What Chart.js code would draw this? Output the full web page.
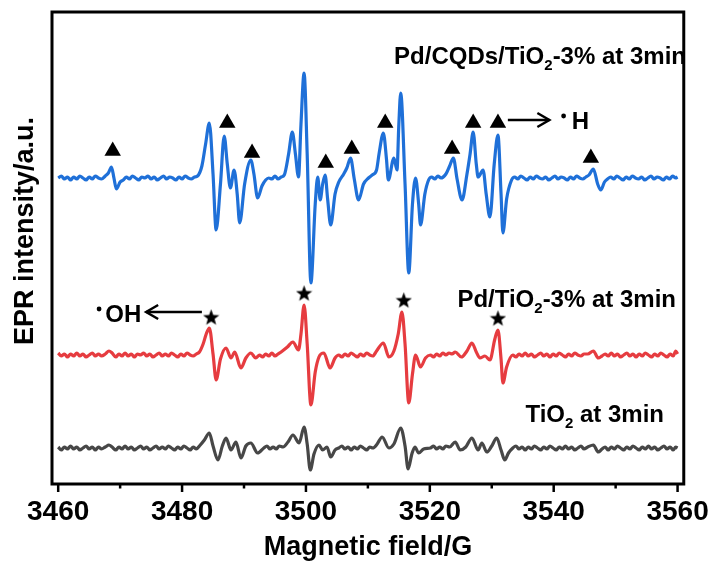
<!DOCTYPE html>
<html>
<head>
<meta charset="utf-8">
<script src="https://cdn.jsdelivr.net/npm/chart.js@4.4.1/dist/chart.umd.min.js"></script>
<style>
html,body{margin:0;padding:0;background:#fff;}
#wrap{width:720px;height:569px;position:relative;}
</style>
</head>
<body>
<div id="wrap"><canvas id="c" width="720" height="569"></canvas></div>
<script>
// ---- Data: [field (G), EPR intensity (a.u.)] ----
const xTickValues = [3460, 3480, 3500, 3520, 3540, 3560];

const blueTrace = [[3460.0,306],[3460.5,308],[3461.0,305],[3461.5,307],[3462.0,304],[3462.5,307],[3463.0,305],[3463.5,308],[3464.0,306],[3464.5,304],[3465.0,307],[3465.5,305],[3466.0,308],[3466.5,306],[3467.0,305],[3467.6,308],
[3468.1,311],[3468.6,317],[3469.0,306],[3469.4,295],[3470.0,302],
[3470.5,304],[3471.0,307],[3471.5,305],[3472.0,308],[3472.5,306],[3473.0,304],[3473.5,307],[3474.0,306],[3474.5,308],[3475.0,305],[3475.5,307],[3476.0,304],[3476.5,306],[3477.0,308],[3477.5,305],[3478.0,307],[3478.5,306],[3479.0,304],[3479.5,307],[3480.0,305],[3480.5,308],[3481.0,306],[3481.5,305],[3482.0,307],[3482.5,308],
[3483.2,318],[3483.8,340],[3484.4,361],[3485.0,310],[3485.5,254],[3486.2,300],[3486.8,348],[3487.3,320],[3487.8,296],[3488.4,314],[3488.9,290],[3489.3,261],[3490.1,300],[3491.1,324],[3491.6,310],[3492.2,286],[3492.9,298],[3493.5,304],
[3494.0,306],[3494.5,305],[3495.0,308],[3495.5,305],[3496.0,307],[3496.5,309],
[3497.2,330],[3497.8,352],[3498.3,330],[3498.8,307],[3499.2,360],[3499.7,411],[3500.2,330],[3500.8,201],[3501.5,280],[3501.9,307],[3502.3,284],[3502.7,300],[3503.1,309],[3503.5,285],[3504.0,259],[3504.7,290],[3505.3,302],[3506.1,310],[3506.6,316],[3507.2,326],[3507.8,305],[3508.5,284],[3509.3,300],[3510.1,306],[3510.7,309],[3511.4,314],[3511.8,330],[3512.5,351],[3513.0,325],[3513.3,304],[3514.2,326],[3514.7,314],[3515.0,360],[3515.3,391],[3516.0,300],[3516.6,211],[3517.2,280],[3517.7,306],[3518.2,280],[3518.5,259],[3519.2,290],[3519.8,304],
[3520.3,307],[3520.8,305],[3521.3,308],[3521.8,306],[3522.6,310],[3523.2,318],[3523.8,326],[3524.4,305],[3525.2,284],[3526.0,310],[3526.5,330],[3527.0,352],[3527.5,320],[3527.8,307],[3528.6,314],[3529.1,290],[3529.7,267],[3530.4,320],[3531.0,349],[3531.5,290],[3531.8,251],[3532.4,285],[3533.2,304],
[3533.7,307],[3534.2,305],[3534.7,308],[3535.2,306],[3535.7,304],[3536.2,307],[3536.7,305],[3537.2,308],[3537.7,306],[3538.2,305],[3538.7,307],[3539.2,304],[3539.7,306],[3540.2,308],[3540.7,305],[3541.2,307],[3541.7,306],[3542.2,304],[3542.7,307],[3543.2,305],[3543.7,308],[3544.2,306],[3544.7,305],[3545.2,307],[3545.7,309],
[3546.4,315],[3547.1,300],[3547.6,294],[3548.2,302],
[3548.7,305],[3549.2,307],[3549.7,305],[3550.2,308],[3550.7,306],[3551.2,304],[3551.7,307],[3552.2,305],[3552.7,308],[3553.2,306],[3553.7,305],[3554.2,307],[3554.7,304],[3555.2,306],[3555.7,308],[3556.2,305],[3556.7,307],[3557.2,306],[3557.7,304],[3558.2,307],[3558.7,305],[3559.2,308],[3559.7,306],[3560.0,307]];

const redTrace = [[3460.0,131],[3460.5,128],[3461.0,130],[3461.5,127],[3462.0,130],[3462.5,128],[3463.0,131],[3463.5,128],[3464.0,130],[3464.5,127],[3465.0,129],[3465.5,131],[3466.0,128],[3466.5,130],[3467.0,128],[3467.6,130],[3468.2,133],[3468.7,131],[3469.3,127],[3469.8,130],
[3470.3,128],[3470.8,131],[3471.3,128],[3471.8,130],[3472.3,127],[3472.8,130],[3473.3,129],[3473.8,131],[3474.3,128],[3474.8,130],[3475.3,127],[3475.8,129],[3476.3,131],[3476.8,128],[3477.3,130],[3477.8,128],[3478.3,131],[3478.8,129],[3479.3,127],[3479.8,130],[3480.3,128],[3480.8,131],[3481.3,129],[3481.8,128],[3482.3,130],[3482.8,132],
[3483.4,140],[3483.9,150],[3484.4,156],[3485.0,130],[3485.5,104],[3486.2,125],[3487.1,136],[3487.9,126],[3488.5,132],[3489.5,116],[3490.3,126],[3491.1,131],[3491.9,126],
[3492.5,129],[3493.0,127],[3493.5,130],[3494.0,128],[3494.5,131],[3495.0,128],[3495.5,130],[3496.2,133],[3497.0,137],[3497.9,142],[3498.8,134],[3499.2,150],[3499.7,179],[3500.2,140],[3500.8,79],[3501.5,112],[3502.1,127],[3502.9,131],[3503.9,116],[3504.7,126],[3505.3,129],
[3505.8,127],[3506.3,130],[3506.8,128],[3507.3,131],[3507.8,129],[3508.3,127],[3508.8,130],[3509.3,128],[3509.8,131],[3510.3,129],[3510.8,128],[3511.4,133],[3512.5,141],[3513.4,127],[3514.2,133],[3514.9,150],[3515.5,172],[3516.0,140],[3516.6,81],[3517.2,110],[3517.7,129],[3518.5,117],[3519.3,126],[3520.1,129],
[3520.6,127],[3521.1,130],[3521.6,128],[3522.1,131],[3522.6,129],[3523.1,131],[3523.6,130],[3524.1,132],[3525.1,127],[3526.0,133],[3526.8,141],[3527.5,132],[3528.1,126],[3528.9,128],[3529.7,124],[3530.5,145],[3531.0,154],[3531.5,125],[3531.8,101],[3532.4,117],[3533.4,129],
[3533.9,127],[3534.4,130],[3534.9,128],[3535.4,131],[3535.9,128],[3536.4,130],[3536.9,127],[3537.4,129],[3537.9,131],[3538.4,128],[3538.9,130],[3539.4,127],[3539.9,130],[3540.4,128],[3540.9,131],[3541.4,129],[3541.9,127],[3542.4,130],[3542.9,128],[3543.4,131],[3543.9,129],[3544.4,128],[3544.9,130],[3545.5,130],[3546.4,133],[3547.2,126],[3547.8,128],
[3548.3,130],[3548.8,128],[3549.3,131],[3549.8,128],[3550.3,130],[3550.8,127],[3551.3,129],[3551.8,131],[3552.3,128],[3552.8,130],[3553.3,127],[3553.8,130],[3554.3,128],[3554.8,131],[3555.3,129],[3555.8,127],[3556.3,130],[3556.8,128],[3557.3,131],[3557.8,129],[3558.3,127],[3558.8,130],[3559.3,128],[3559.7,133],[3560.0,130]];

const grayTrace = [[3460.0,37],[3460.5,34],[3461.0,37],[3461.5,35],[3462.0,38],[3462.5,35],[3463.0,37],[3463.5,34],[3464.0,36],[3464.5,38],[3465.0,35],[3465.5,37],[3466.0,34],[3466.5,37],[3467.0,35],[3467.6,37],[3468.2,39],[3468.7,37],[3469.3,34],[3469.8,37],
[3470.3,35],[3470.8,38],[3471.3,35],[3471.8,37],[3472.3,34],[3472.8,36],[3473.3,38],[3473.8,35],[3474.3,37],[3474.8,34],[3475.3,36],[3475.8,38],[3476.3,35],[3476.8,37],[3477.3,35],[3477.8,38],[3478.3,36],[3478.8,34],[3479.3,37],[3479.8,35],[3480.3,38],[3480.8,36],[3481.3,34],[3481.8,37],[3482.3,35],[3482.8,38],
[3483.6,44],[3484.4,51],[3485.0,38],[3485.8,24],[3486.5,38],[3487.1,46],[3487.9,34],[3488.7,42],[3489.5,26],[3490.3,38],[3491.1,41],[3492.2,31],[3493.2,36],
[3493.7,38],[3494.2,35],[3494.7,37],[3495.2,35],[3495.7,38],[3496.3,37],[3497.1,42],[3497.9,49],[3498.9,41],[3499.7,57],[3500.2,40],[3500.7,14],[3501.3,30],[3502.1,39],[3502.7,34],[3503.4,37],[3504.0,27],[3504.7,34],[3505.3,36],
[3505.8,38],[3506.3,35],[3506.8,37],[3507.3,34],[3507.8,37],[3508.3,35],[3508.8,38],[3509.3,36],[3509.8,34],[3510.3,37],[3510.8,36],[3511.5,40],[3512.3,47],[3513.4,36],[3514.2,40],[3515.3,56],[3516.0,38],[3516.5,15],[3517.1,30],[3517.6,37],[3518.2,31],[3519.0,35],[3520.1,36],
[3520.6,38],[3521.1,35],[3521.6,37],[3522.1,35],[3522.6,38],[3523.2,37],[3524.1,42],[3524.9,34],[3525.8,37],[3526.8,46],[3527.8,34],[3528.4,41],[3529.2,32],[3530.0,38],[3530.8,46],[3531.5,34],[3532.1,24],[3532.7,31],[3533.4,36],
[3533.9,38],[3534.4,35],[3534.9,37],[3535.4,34],[3535.9,37],[3536.4,35],[3536.9,38],[3537.4,36],[3537.9,34],[3538.4,37],[3538.9,35],[3539.4,38],[3539.9,36],[3540.4,34],[3540.9,37],[3541.4,35],[3541.9,38],[3542.4,35],[3542.9,37],[3543.4,34],[3543.9,36],[3544.4,38],[3544.9,35],[3545.5,37],[3546.4,39],[3547.2,32],[3547.8,35],
[3548.3,37],[3548.8,34],[3549.3,37],[3549.8,35],[3550.3,38],[3550.8,36],[3551.3,34],[3551.8,37],[3552.3,35],[3552.8,38],[3553.3,36],[3553.8,34],[3554.3,37],[3554.8,35],[3555.3,38],[3555.8,35],[3556.3,37],[3556.8,34],[3557.3,36],[3557.8,38],[3558.3,35],[3558.8,37],[3559.3,34],[3559.7,37],[3560.0,36]];

// marker positions (•H triangles, •OH stars)
const trianglePoints = [[3468.8,333],[3487.3,361],[3491.3,331],[3503.2,321],[3507.4,335],[3512.8,361],[3523.6,335],[3527.0,361],[3531.0,361],[3546.0,326]];
const starPoints = [[3484.7,167],[3499.7,191],[3515.8,184],[3531.0,166]];

const FONT = '"Liberation Sans", Arial, Helvetica, sans-serif';

function pts(arr){ return arr.map(p => ({x: p[0], y: p[1]})); }

function makeStar(size){
  const cv = document.createElement('canvas');
  cv.width = size; cv.height = size;
  const g = cv.getContext('2d');
  const cx = size/2, cy = size/2 + size*0.05, R = size/2, r = R*0.42;
  g.beginPath();
  for(let i=0;i<10;i++){
    const a = -Math.PI/2 + i*Math.PI/5;
    const rr = i%2===0 ? R : r;
    g.lineTo(cx + rr*Math.cos(a), cy + rr*Math.sin(a));
  }
  g.closePath();
  g.fillStyle = '#000';
  g.fill();
  return cv;
}
const starImg = makeStar(17);

const framePlugin = {
  id: 'frame',
  afterDraw(chart){
    const {ctx, chartArea:a, scales:{x, y}} = chart;
    ctx.save();
    ctx.strokeStyle = '#000';
    ctx.lineWidth = 3;
    ctx.strokeRect(a.left, a.top, a.right - a.left, a.bottom - a.top);
    ctx.lineWidth = 2.5;
    for(let v = 3460; v <= 3560; v += 10){
      const px = x.getPixelForValue(v);
      const len = (v % 20 === 0) ? 8 : 4.5;
      ctx.beginPath();
      ctx.moveTo(px, a.bottom);
      ctx.lineTo(px, a.bottom + len);
      ctx.stroke();
    }
    ctx.fillStyle = '#000';
    ctx.font = 'bold 27px ' + FONT;
    ctx.textAlign = 'center';
    ctx.textBaseline = 'middle';
    ctx.fillText('Magnetic field/G', 368, 548);
    ctx.save();
    ctx.translate(26, 231);
    ctx.rotate(-Math.PI/2);
    ctx.fillText('EPR intensity/a.u.', 0, 0);
    ctx.restore();

    function subText(parts, xEnd, yMid, size){
      const subSize = Math.round(size*0.62);
      let w = 0;
      parts.forEach(p => {
        ctx.font = 'bold ' + (p.sub ? subSize : size) + 'px ' + FONT;
        w += ctx.measureText(p.t).width;
      });
      let cx = xEnd - w;
      ctx.textAlign = 'left';
      ctx.textBaseline = 'alphabetic';
      parts.forEach(p => {
        ctx.font = 'bold ' + (p.sub ? subSize : size) + 'px ' + FONT;
        ctx.fillText(p.t, cx, p.sub ? yMid + 15 : yMid + 8.5);
        cx += ctx.measureText(p.t).width;
      });
    }
    const X = v => x.getPixelForValue(v);
    const Y = v => y.getPixelForValue(v);
    subText([{t:'Pd/CQDs/TiO'},{t:'2',sub:true},{t:'-3% at 3min'}], 686, Y(429), 24);
    subText([{t:'Pd/TiO'},{t:'2',sub:true},{t:'-3% at 3min'}], 676, Y(186), 24);
    subText([{t:'TiO'},{t:'2',sub:true},{t:' at 3min'}], 664, Y(71), 24);

    // •H arrow and label
    ctx.lineWidth = 2.5;
    ctx.beginPath();
    ctx.moveTo(X(3532.6), Y(364)); ctx.lineTo(X(3539.3), Y(364));
    ctx.stroke();
    ctx.beginPath();
    ctx.moveTo(X(3539.3)-12, Y(364)-7); ctx.lineTo(X(3539.3), Y(364)); ctx.lineTo(X(3539.3)-12, Y(364)+7);
    ctx.stroke();
    ctx.font = 'bold 24px ' + FONT;
    ctx.textAlign = 'left';
    ctx.textBaseline = 'middle';
    ctx.fillText('H', X(3542.9), Y(362));
    ctx.beginPath(); ctx.arc(X(3541.6), Y(368), 2.4, 0, Math.PI*2); ctx.fill();

    // •OH arrow and label
    ctx.beginPath();
    ctx.moveTo(X(3483.2), Y(172)); ctx.lineTo(X(3474.2), Y(172));
    ctx.stroke();
    ctx.beginPath();
    ctx.moveTo(X(3474.2)+12, Y(172)-7); ctx.lineTo(X(3474.2), Y(172)); ctx.lineTo(X(3474.2)+12, Y(172)+7);
    ctx.stroke();
    ctx.fillText('OH', X(3467.6), Y(169));
    ctx.beginPath(); ctx.arc(X(3466.6), Y(175), 2.4, 0, Math.PI*2); ctx.fill();
    ctx.restore();
  }
};

new Chart(document.getElementById('c'), {
  type: 'line',
  data: {
    datasets: [
      {data: pts(blueTrace), borderColor: '#1f70d8', borderWidth: 3.2, pointRadius: 0, cubicInterpolationMode: 'monotone', fill: false},
      {data: pts(redTrace), borderColor: '#e63c40', borderWidth: 3.2, pointRadius: 0, cubicInterpolationMode: 'monotone', fill: false},
      {data: pts(grayTrace), borderColor: '#474747', borderWidth: 3.2, pointRadius: 0, cubicInterpolationMode: 'monotone', fill: false},
      {type: 'scatter', data: pts(trianglePoints), showLine: false, pointStyle: 'triangle', pointRadius: 9.5, backgroundColor: '#000', borderColor: '#000', borderWidth: 0},
      {type: 'scatter', data: pts(starPoints), showLine: false, pointStyle: starImg, pointRadius: 8}
    ]
  },
  options: {
    responsive: false,
    animation: false,
    layout: {padding: {left: 52, top: 12, right: 29, bottom: 0}},
    plugins: {legend: {display: false}, tooltip: {enabled: false}},
    scales: {
      x: {
        type: 'linear', min: 3459, max: 3561,
        afterBuildTicks: s => { s.ticks = xTickValues.map(v => ({value: v})); },
        afterFit: s => { s.height = 85; },
        grid: {display: false, drawTicks: false},
        border: {display: false},
        ticks: {color: '#000', padding: 11, font: {family: FONT, size: 28, weight: 'bold'}, maxRotation: 0, autoSkip: false,
          callback: v => String(v)}
      },
      y: {display: false, min: 0, max: 472}
    }
  },
  plugins: [framePlugin]
});
</script>
</body>
</html>
